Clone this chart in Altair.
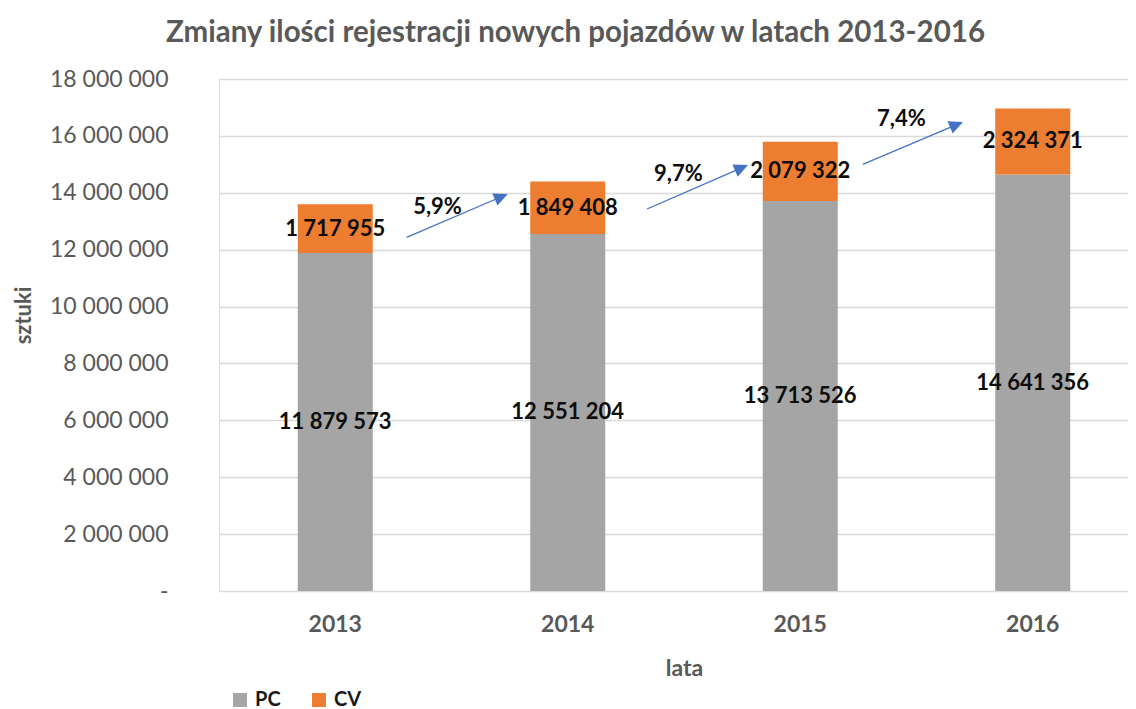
import math
import altair as alt
import pandas as pd

# ---------------- data ----------------
years = ["2013", "2014", "2015", "2016"]
series = ["PC", "CV"]
pc_values = [11879573, 12551204, 13713526, 14641356]
cv_values = [1717955, 1849408, 2079322, 2324371]

growth_labels = ["5,9%", "9,7%", "7,4%"]
growth_label_x = [0.94, 1.976, 2.935]          # in category units (0..4)
growth_label_y = [13.5e6, 14.66e6, 16.59e6]

arrow_x0 = [0.807, 1.841, 2.769]
arrow_y0 = [12.435e6, 13.43e6, 15.0e6]
arrow_x1 = [1.242, 2.275, 3.200]
arrow_y1 = [13.957e6, 14.977e6, 16.488e6]

y_ticks = [0, 2e6, 4e6, 6e6, 8e6, 10e6, 12e6, 14e6, 16e6, 18e6]

# ---------------- geometry / style ----------------
PLOT_W = 909
PLOT_H = 512
RANGE_W = 930
Y_MAX = 18e6
STEP = RANGE_W / len(years)
BAR_W = 75
GRAY = "#A5A5A5"
ORANGE = "#ED7D31"
BLUE = "#4472C4"
AXIS_GRAY = "#595959"
FONT = "Lato"


def fmt(v):
    return f"{v:,}".replace(",", " ")


rows = []
for i, y in enumerate(years):
    rows.append({"year": y, "series": "PC", "ord": 0, "value": pc_values[i]})
    rows.append({"year": y, "series": "CV", "ord": 1, "value": cv_values[i]})
bars_df = pd.DataFrame(rows)

lab_rows = []
for i, y in enumerate(years):
    lab_rows.append({"year": y, "mid": pc_values[i] / 2, "label": fmt(pc_values[i])})
    lab_rows.append({"year": y, "mid": pc_values[i] + cv_values[i] / 2, "label": fmt(cv_values[i])})
labels_df = pd.DataFrame(lab_rows)

px_per_unit_x = STEP
px_per_unit_y = PLOT_H / Y_MAX
HEAD_LEN = 14
arrow_rows = []
for k in range(len(arrow_x0)):
    dxp = (arrow_x1[k] - arrow_x0[k]) * px_per_unit_x
    dyp = (arrow_y1[k] - arrow_y0[k]) * px_per_unit_y
    L = math.hypot(dxp, dyp)
    ang = math.degrees(math.atan2(dyp, dxp))
    hx = arrow_x1[k] - (dxp / L) * (HEAD_LEN / 2) / px_per_unit_x
    hy = arrow_y1[k] - (dyp / L) * (HEAD_LEN / 2) / px_per_unit_y
    arrow_rows.append({
        "x0": arrow_x0[k], "y0": arrow_y0[k],
        "x1": arrow_x1[k] - (dxp / L) * (HEAD_LEN - 2) / px_per_unit_x,
        "y1": arrow_y1[k] - (dyp / L) * (HEAD_LEN - 2) / px_per_unit_y,
        "hx": hx, "hy": hy, "angle": 90 - ang,
    })
arrows_df = pd.DataFrame(arrow_rows)
growth_df = pd.DataFrame({"x": growth_label_x, "y": growth_label_y, "label": growth_labels})

# ---------------- scales ----------------
x_band = alt.Scale(domain=years, range=[0, RANGE_W],
                   paddingInner=1 - BAR_W / STEP, paddingOuter=(1 - BAR_W / STEP) / 2)
y_scale = alt.Scale(domain=[0, Y_MAX], nice=False)
x_lin = alt.Scale(domain=[0, len(years)], range=[0, RANGE_W], nice=False, zero=False)

y_label_expr = ("datum.value == 0 ? '-\u00a0\u00a0' : "
                "replace(format(datum.value, ',d'), regexp(',', 'g'), ' ')")

bars = alt.Chart(bars_df).mark_bar().encode(
    x=alt.X("year:N", scale=x_band, sort=years,
            axis=alt.Axis(title="lata", labelAngle=0, domain=False, ticks=False,
                          labelPadding=22, labelFont=FONT, labelFontSize=23,
                          labelFontWeight="bold", labelColor=AXIS_GRAY,
                          titleFont=FONT, titleFontSize=23, titleFontWeight="bold",
                          titleColor=AXIS_GRAY, titleY=84, titleBaseline="alphabetic",
                          grid=False)),
    y=alt.Y("value:Q", stack="zero", scale=y_scale,
            axis=alt.Axis(title="sztuki", values=y_ticks, labelExpr=y_label_expr,
                          domain=False, ticks=False, labelPadding=51,
                          labelFont=FONT, labelFontSize=23, labelColor=AXIS_GRAY,
                          titleFont=FONT, titleFontSize=22, titleFontWeight="bold",
                          titleColor=AXIS_GRAY, titleX=-196, titleY=236,
                          titleBaseline="middle",
                          grid=True, gridColor="#D9D9D9", gridWidth=1.5)),
    color=alt.Color("series:N", scale=alt.Scale(domain=series, range=[GRAY, ORANGE]),
                    legend=alt.Legend(title=None, orient="none", legendX=11, legendY=611,
                                      direction="horizontal", symbolType="square",
                                      symbolSize=196, symbolStrokeWidth=0,
                                      labelFont=FONT, labelFontSize=20,
                                      labelFontWeight="bold", labelColor="#1A1A1A",
                                      columnPadding=28, labelOffset=5, padding=0)),
    order=alt.Order("ord:Q"),
)

bar_labels = alt.Chart(labels_df).mark_text(
    font=FONT, fontSize=22, fontWeight="bold", color="#0D0D0D", baseline="middle"
).encode(
    x=alt.X("year:N", scale=x_band, sort=years, axis=None),
    y=alt.Y("mid:Q", scale=y_scale),
    text="label:N",
)

arrow_lines = alt.Chart(arrows_df).mark_rule(color=BLUE, strokeWidth=1.3).encode(
    x=alt.X("x0:Q", scale=x_lin, axis=None),
    x2="x1:Q",
    y=alt.Y("y0:Q", scale=y_scale),
    y2="y1:Q",
)

arrow_heads = alt.Chart(arrows_df).mark_point(
    shape="M0,-1L-0.95,1L0.95,1Z", filled=True, color=BLUE, opacity=1,
    size=HEAD_LEN * HEAD_LEN, strokeWidth=0
).encode(
    x=alt.X("hx:Q", scale=x_lin, axis=None),
    y=alt.Y("hy:Q", scale=y_scale),
    angle=alt.Angle("angle:Q", scale=None),
)

growth_text = alt.Chart(growth_df).mark_text(
    font=FONT, fontSize=22, fontWeight="bold", color="#0D0D0D", baseline="middle"
).encode(
    x=alt.X("x:Q", scale=x_lin, axis=None),
    y=alt.Y("y:Q", scale=y_scale),
    text="label:N",
)

annotations = alt.layer(arrow_lines, arrow_heads, growth_text)

chart = alt.layer(bars, bar_labels, annotations).resolve_scale(
    x="independent"
).properties(
    width=PLOT_W,
    height=PLOT_H,
    autosize=alt.AutoSizeParams(type="none"),
    padding={"left": 211, "top": 71, "right": 0, "bottom": 118},
    title=alt.TitleParams(
        "Zmiany ilości rejestracji nowych pojazdów w latach 2013-2016",
        font=FONT, fontSize=29.5, fontWeight="bold", color=AXIS_GRAY,
        anchor="middle", dx=-98, offset=20,
    ),
).configure_view(stroke=None).configure(font=FONT, background="white")

chart.save("out.html", embed_options={"renderer": "svg", "actions": False})
